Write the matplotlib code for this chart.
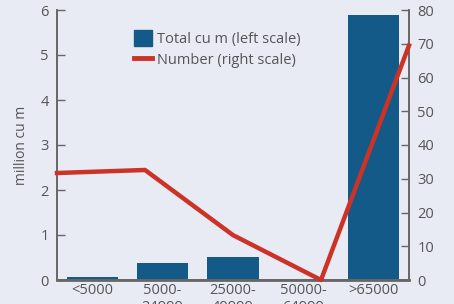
import numpy as np
import matplotlib.pyplot as plt
from matplotlib.patches import Patch
from matplotlib.lines import Line2D

plt.rcParams['font.family'] = ['Open Sans', 'DejaVu Sans']

categories = ['<5000', '5000-\n24999', '25000-\n49999', '50000-\n64999', '>65000']
total_cum = [0.06, 0.38, 0.51, 0.0, 5.88]   # million cu m (left scale)
number = [31.7, 32.6, 13.3, 0.0, 69.5]      # count (right scale)

bg = '#e8ebf4'
bar_col = '#145a88'
line_col = '#cc3326'
grey = '#666666'
txt = '#555555'

fig = plt.figure(figsize=(4.54, 3.04), dpi=100, facecolor=bg)
ax = fig.add_axes([57/454, 24/304, 352/454, 270/304], facecolor=bg)

x = np.arange(len(categories))
ax.bar(x, total_cum, width=0.73, color=bar_col, zorder=2)
ax.set_xlim(-0.5, len(categories) - 0.5)
ax.set_ylim(0, 6)
ax.set_yticks(range(0, 7))
ax.set_xticks(x)
ax.set_xticklabels(categories, color=txt, fontsize=10.5, va='top')
ax.tick_params(axis='x', length=0, pad=2)
ax.tick_params(axis='y', direction='in', length=6, width=1, colors=grey,
               labelcolor=txt, labelsize=10.5, pad=6)
ax.set_ylabel('million cu m', color=txt, fontsize=10, labelpad=8)

ax2 = ax.twinx()
# line vertices spread across the full plot width
xl = np.linspace(-0.5, len(categories) - 0.5, len(number))
ax2.plot(xl, number, color=line_col, linewidth=3.2, clip_on=False, zorder=3)
ax2.set_ylim(0, 80)
ax2.set_yticks(range(0, 81, 10))
ax2.tick_params(axis='y', direction='in', length=6, width=1, colors=grey,
                labelcolor=txt, labelsize=10.5, pad=6)

for a in (ax, ax2):
    a.spines['top'].set_visible(False)
    for s in ('left', 'right', 'bottom'):
        a.spines[s].set_color(grey)
        a.spines[s].set_linewidth(1.2)
ax.spines['bottom'].set_linewidth(2)

handles = [Patch(color=bar_col), Line2D([0], [0], color=line_col, linewidth=3.5)]
labels = ['Total cu m (left scale)', 'Number (right scale)']
leg = fig.legend(handles, labels, loc='upper left', bbox_to_anchor=(121/454, 1 - 17/304),
                 frameon=False, fontsize=10.5, handlelength=1.2, handleheight=1.3,
                 handletextpad=0.4, labelspacing=0.3)
for t in leg.get_texts():
    t.set_color(txt)

fig.savefig('out.png', dpi=100, facecolor=bg)
